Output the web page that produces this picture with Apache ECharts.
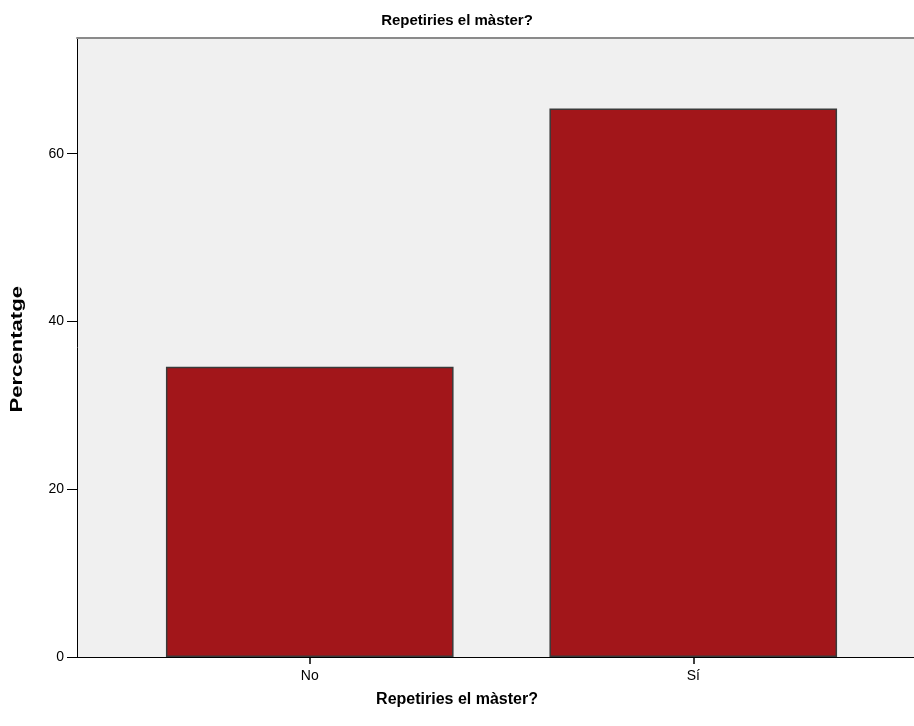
<!DOCTYPE html>
<html><head><meta charset="utf-8">
<script src="https://cdn.jsdelivr.net/npm/echarts@6/dist/echarts.min.js"></script>
<style>html,body{margin:0;padding:0;background:#fff}#c{width:914px;height:726px}</style>
</head><body><div id="c"></div>
<script>
const categories = ['No', 'Sí'];
const percentages = [34.6, 65.4];
const yTicks = [0, 20, 40, 60];
const yMax = 73.8;
const chartTitle = 'Repetiries el màster?';
const xTitle = 'Repetiries el màster?';
const yTitle = 'Percentatge';

const chart = echarts.init(document.getElementById('c'), null, {renderer: 'canvas'});
const font = '"Liberation Sans", Arial, sans-serif';
chart.setOption({
  animation: false,
  backgroundColor: '#ffffff',
  title: [
    {text: chartTitle, left: 'center', top: 8,
     textStyle: {fontFamily: font, fontSize: 15, fontWeight: 'bold', color: '#000'}},
    {text: xTitle, left: 'center', top: 687,
     textStyle: {fontFamily: font, fontSize: 16, fontWeight: 'bold', color: '#000'}}
  ],
  graphic: [{
    type: 'text', left: 9, top: 286, rotation: Math.PI / 2, scaleX: 1.3,
    style: {text: yTitle, font: 'bold 17px "Liberation Sans", Arial, sans-serif', fill: '#000'}
  }],
  grid: [
    {left: 77, right: 0, top: 38, bottom: 69, show: true, backgroundColor: '#f0f0f0', borderWidth: 0},
    {left: 118, right: 29, top: 38, bottom: 69}
  ],
  xAxis: [
    {gridIndex: 0, type: 'category', data: [''], position: 'bottom',
     axisLine: {show: true, lineStyle: {color: '#000', width: 1}}, axisTick: {show: false}, axisLabel: {show: false}},
    {gridIndex: 0, type: 'category', data: [''], position: 'top',
     axisLine: {show: true, lineStyle: {color: '#8a8a8a', width: 2}}, axisTick: {show: false}, axisLabel: {show: false}},
    {gridIndex: 1, type: 'category', data: categories, position: 'bottom', z: 10,
     axisLine: {show: true, lineStyle: {color: '#000', width: 1}},
     axisTick: {show: true, inside: false, alignWithLabel: true, interval: 0, length: 7, lineStyle: {color: '#000', width: 1.5}},
     axisLabel: {fontFamily: font, fontSize: 14, color: '#000', margin: 12}}
  ],
  yAxis: [
    {gridIndex: 0, type: 'value', min: 0, max: yMax, interval: 20,
     axisLine: {show: true, lineStyle: {color: '#000', width: 1}},
     axisTick: {show: true, length: 10, customValues: yTicks, lineStyle: {color: '#000'}},
     axisLabel: {fontFamily: font, fontSize: 14, color: '#000', margin: 13, customValues: yTicks},
     splitLine: {show: false}},
    {gridIndex: 1, type: 'value', min: 0, max: yMax, show: false, splitLine: {show: false}}
  ],
  series: [{
    type: 'bar', xAxisIndex: 2, yAxisIndex: 1, data: percentages, barWidth: '75%',
    itemStyle: {color: '#a2161a', borderColor: '#3a3a3a', borderWidth: 1.5}
  }]
});
</script></body></html>
